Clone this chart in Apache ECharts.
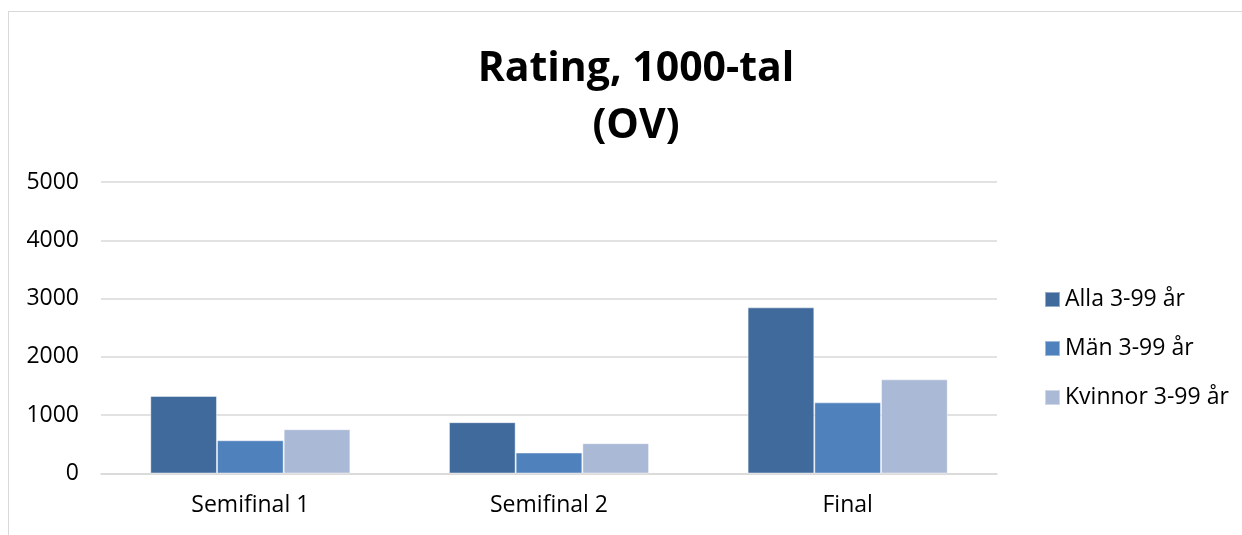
<!DOCTYPE html>
<html>
<head>
<meta charset="utf-8">
<script src="https://cdn.jsdelivr.net/npm/echarts@6/dist/echarts.min.js"></script>
<style>
  html, body { margin: 0; padding: 0; background: #fff; }
  #frame {
    position: absolute; left: 8px; top: 11px; right: -2px; bottom: -2px;
    border-left: 1.5px solid #d9d9d9; border-top: 1.5px solid #d9d9d9;
  }
  #chart { width: 1242px; height: 535px; position: absolute; left: 0; top: 0; }
</style>
</head>
<body>
<div id="frame"></div>
<div id="chart"></div>
<script>
const categories = ["Semifinal 1", "Semifinal 2", "Final"];
const seriesNames = ["Alla 3-99 år", "Män 3-99 år", "Kvinnor 3-99 år"];
const alla = [1330, 880, 2850];
const man = [570, 360, 1220];
const kvinnor = [760, 520, 1615];
const colors = ["#3F6A9B", "#4F81BD", "#AAB9D6"];

const font = "'Open Sans', 'Noto Sans', sans-serif";

function makeSeries(name, data, color) {
  return {
    name: name,
    type: "bar",
    data: data,
    barGap: "0%",
    barCategoryGap: "33%",
    itemStyle: {
      color: color,
      borderColor: "rgba(255,255,255,0.45)",
      borderWidth: 1,
    },
  };
}

const chart = echarts.init(document.getElementById("chart"));
chart.setOption({
  animation: false,
  textStyle: { fontFamily: font },
  title: {
    text: "Rating, 1000-tal\n(OV)",
    left: 631,
    top: 36,
    textAlign: "center",
    textStyle: {
      fontFamily: font,
      fontSize: 41,
      fontWeight: "bold",
      color: "#000",
      lineHeight: 57,
    },
  },
  legend: {
    orient: "vertical",
    left: 1039,
    top: 281,
    itemWidth: 15,
    itemHeight: 15,
    itemGap: 22,
    icon: "rect",
    textStyle: { fontFamily: font, fontSize: 23, color: "#000", lineHeight: 27 },
    data: seriesNames,
  },
  grid: { left: 101, right: 245, top: 182, bottom: 61.5 },
  xAxis: {
    type: "category",
    data: categories,
    axisLine: { lineStyle: { color: "#d9d9d9", width: 1.5 } },
    axisTick: { show: false },
    axisLabel: { fontFamily: font, fontSize: 23, color: "#000", margin: 20 },
  },
  yAxis: {
    type: "value",
    min: 0,
    max: 5000,
    interval: 1000,
    axisLine: { show: false },
    axisTick: { show: false },
    axisLabel: {
      fontFamily: font,
      fontSize: 23,
      color: "#000",
      margin: 22,
      formatter: (v) => String(v),
    },
    splitLine: { lineStyle: { color: "#d9d9d9", width: 1.5 } },
  },
  color: colors,
  series: [
    makeSeries(seriesNames[0], alla, colors[0]),
    makeSeries(seriesNames[1], man, colors[1]),
    makeSeries(seriesNames[2], kvinnor, colors[2]),
  ],
});
</script>
</body>
</html>
